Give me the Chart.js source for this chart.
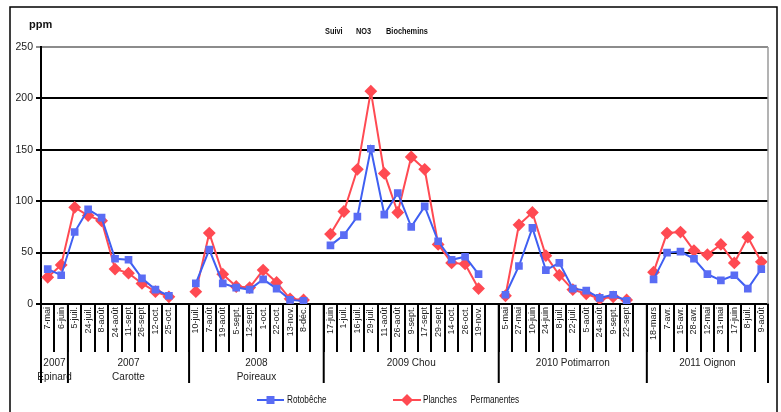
<!DOCTYPE html>
<html>
<head>
<meta charset="utf-8">
<script src="https://cdn.jsdelivr.net/npm/chart.js@4/dist/chart.umd.min.js"></script>
<style>
  html, body { margin: 0; padding: 0; background: #fff; }
  #wrap { width: 781px; height: 412px; position: relative; }
</style>
</head>
<body>
<div id="wrap"><canvas id="no3"></canvas></div>
<script>
// sampling dates, '' = gap between crops
const dates = [
  "7-mai", "6-juin", "5-juil.", "24-juil.", "8-août", "24-août", "11-sept", "26-sept", "12-oct.", "25-oct.", "",
  "10-juil.", "7-août", "19-août", "5-sept.", "12-sept", "1-oct.", "22-oct.", "13-nov.", "8-déc.", "",
  "17-juin", "1-juil.", "16-juil.", "29-juil.", "11-août", "26-août", "9-sept.", "17-sept", "29-sept", "14-oct.", "26-oct.", "19-nov.", "",
  "5-mai", "27-mai", "10-juin", "24-juin", "8-juil.", "22-juil.", "5-août", "24-août", "9-sept.", "22-sept", "",
  "18-mars", "7-avr.", "15-avr.", "28-avr.", "12-mai", "31-mai", "17-juin", "8-juil.", "9-août"
];

const rotobeche = [
  34, 28, 70, 92, 84, 44, 43, 25, 14, 8, null,
  20, 53, 20, 16, 14, 24, 15, 4, 3, null,
  57, 67, 85, 151, 87, 108, 75, 95, 61, 43, 46, 29, null,
  9, 37, 74, 33, 40, 15, 13, 6, 9, 3, null,
  24, 50, 51, 44, 29, 23, 28, 15, 34
];

const planches = [
  26, 38, 94, 86, 81, 34, 30, 20, 12, 7, null,
  12, 69, 29, 17, 16, 33, 21, 5, 4, null,
  68, 90, 131, 207, 127, 89, 143, 131, 58, 40, 39, 15, null,
  8, 77, 89, 47, 28, 14, 10, 5, 7, 4, null,
  31, 69, 70, 52, 48, 58, 40, 65, 41
];

// crop groups under the dates (number of slots each)
const cropNames = [["2007", "Epinard"], ["2007", "Carotte"], ["2008", "Poireaux"], ["2009 Chou"], ["2010 Potimarron"], ["2011 Oignon"]];
const cropSizes = [2, 9, 10, 13, 11, 9];

const yTicks = [0, 50, 100, 150, 200, 250];

const BLUE = "#3f5ff2";
const RED = "#ff4a52";

// condensed text (no narrow font installed, so squeeze horizontally)
function narrowText(ctx, text, x, y) {
  ctx.save();
  ctx.translate(x, y);
  ctx.scale(0.82, 1);
  ctx.fillText(text, 0, 0);
  ctx.restore();
}

const extras = {
  id: "extras",
  afterDraw(chart) {
    const { ctx, chartArea: a, scales: { x } } = chart;
    const step = x.getPixelForValue(1) - x.getPixelForValue(0);
    ctx.save();

    // outer frame
    ctx.strokeStyle = "#000";
    ctx.lineWidth = 1.5;
    ctx.beginPath();
    ctx.moveTo(10, 420); ctx.lineTo(10, 7); ctx.lineTo(777, 7); ctx.lineTo(777, 420);
    ctx.stroke();

    // right edge of plot
    ctx.strokeStyle = "#9a9a9a";
    ctx.lineWidth = 1.5;
    ctx.beginPath();
    ctx.moveTo(a.right, a.top); ctx.lineTo(a.right, a.bottom);
    ctx.stroke();

    // crop group separators and names
    ctx.strokeStyle = "#000";
    ctx.lineWidth = 2;
    ctx.fillStyle = "#222";
    ctx.font = "10px 'Liberation Sans', Arial, sans-serif";
    ctx.textAlign = "center";
    ctx.textBaseline = "middle";
    let start = 0;
    const edge = (i) => x.getPixelForValue(i) - step / 2;
    const bounds = [edge(0)];
    cropSizes.forEach((n, g) => {
      const end = start + n;
      const l = edge(start), r = edge(end);
      bounds.push(r);
      cropNames[g].forEach((t, k) => ctx.fillText(t, (l + r) / 2, 363 + k * 14));
      start = end;
    });
    ctx.beginPath();
    bounds.forEach((bx) => { ctx.moveTo(bx, a.bottom); ctx.lineTo(bx, 383); });
    ctx.stroke();

    // axis unit and title
    ctx.fillStyle = "#111";
    ctx.textAlign = "left";
    ctx.font = "bold 11px 'Liberation Sans', Arial, sans-serif";
    ctx.fillText("ppm", 29, 25);
    ctx.font = "bold 9px 'Liberation Sans', Arial, sans-serif";
    narrowText(ctx, "Suivi", 325, 32);
    narrowText(ctx, "NO3", 356, 32);
    narrowText(ctx, "Biochemins", 386, 32);

    // legend
    const ly = 400;
    chart.data.datasets.forEach((ds, i) => {
      const x0 = [257, 393][i], x1 = [284, 421][i], tx = [287, 423][i];
      ctx.strokeStyle = ds.borderColor;
      ctx.lineWidth = 2;
      ctx.beginPath(); ctx.moveTo(x0, ly); ctx.lineTo(x1, ly); ctx.stroke();
      ctx.fillStyle = ds.pointBackgroundColor;
      const mx = (x0 + x1) / 2;
      ctx.beginPath();
      if (ds.pointStyle === "rect") {
        ctx.rect(mx - 4, ly - 4, 8, 8);
      } else {
        ctx.moveTo(mx, ly - 6); ctx.lineTo(mx + 6, ly); ctx.lineTo(mx, ly + 6); ctx.lineTo(mx - 6, ly);
        ctx.closePath();
      }
      ctx.fill();
      ctx.fillStyle = "#111";
      ctx.font = "10px 'Liberation Sans', Arial, sans-serif";
      narrowText(ctx, ds.label, tx, ly);
    });
    ctx.restore();
  }
};

new Chart("no3", {
  type: "line",
  data: {
    labels: dates,
    datasets: [
      {
        label: "Rotobêche",
        data: rotobeche,
        borderColor: BLUE,
        borderWidth: 2,
        pointStyle: "rect",
        pointRadius: 4,
        pointBackgroundColor: "#5a6cf4",
        pointBorderColor: "#5a6cf4",
        spanGaps: false,
      },
      {
        label: "Planches      Permanentes",
        data: planches,
        borderColor: RED,
        borderWidth: 2,
        pointStyle: "rectRot",
        pointRadius: 5,
        pointBackgroundColor: RED,
        pointBorderColor: RED,
        spanGaps: false,
      },
    ],
  },
  options: {
    responsive: true,
    maintainAspectRatio: false,
    animation: false,
    layout: { padding: { top: 47, right: 13, left: 0, bottom: 0 } },
    plugins: { legend: { display: false }, tooltip: { enabled: false } },
    scales: {
      x: {
        offset: true,
        afterFit: (s) => { s.height = 108; },
        border: { color: "#000", width: 2 },
        grid: { offset: true, drawOnChartArea: false, tickLength: 48, color: "#000", lineWidth: 2 },
        ticks: {
          autoSkip: false,
          minRotation: 90,
          maxRotation: 90,
          padding: -45,
          color: "#222",
          font: { family: "'Liberation Sans', Arial, sans-serif", size: 9 },
        },
      },
      y: {
        min: 0,
        max: 250,
        afterFit: (s) => { s.width = 41; },
        afterBuildTicks: (s) => { s.ticks = yTicks.map((v) => ({ value: v })); },
        border: { color: "#000", width: 2 },
        grid: {
          color: (c) => (c.tick && c.tick.value === 250 ? "#8c8c8c" : "#000"),
          lineWidth: 2,
          tickLength: 5,
        },
        ticks: {
          padding: 3,
          color: "#222",
          font: { family: "'Liberation Sans', Arial, sans-serif", size: 10.5 },
        },
      },
    },
  },
  plugins: [extras],
});
</script>
</body>
</html>
